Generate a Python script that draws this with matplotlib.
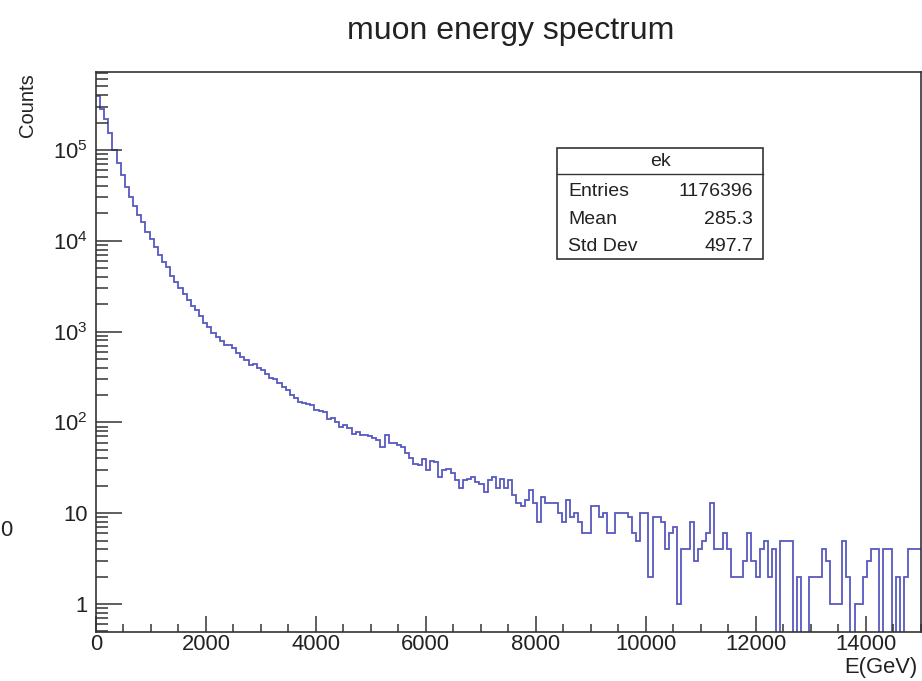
import matplotlib
matplotlib.use("Agg")
import matplotlib.pyplot as plt
from matplotlib.ticker import MultipleLocator, LogLocator, FixedLocator, FuncFormatter
from matplotlib.patches import Rectangle
from matplotlib.lines import Line2D
import numpy as np

# histogram "ek": 200 bins of 75 GeV between 0 and 15000 GeV
e_min = 0
e_max = 15000
n_bins = 200

counts = [
    390000, 280000, 220000, 155000, 100000, 71000, 53000, 39000, 30000, 24000,
    19000, 16000, 12500, 10500, 8600, 7000, 5900, 5100, 4100, 3500,
    3000, 2600, 2250, 1900, 1720, 1480, 1250, 1120, 960, 880,
    780, 715, 720, 655, 580, 530, 490, 430, 435, 400,
    375, 340, 310, 300, 270, 245, 230, 200, 185, 168,
    162, 160, 156, 137, 135, 131, 110, 111, 100, 90,
    94, 86, 75, 79, 73, 73, 70, 68, 64, 54,
    72, 60, 59, 56, 54, 46, 40, 35, 34, 39,
    30, 38, 37, 25, 30, 31, 28, 23, 19, 23,
    24, 25, 22, 21, 17, 23, 25, 19, 24, 19,
    23, 16, 13, 12, 14, 18, 13, 8, 15, 13,
    13, 13, 10, 8, 14, 9, 10, 8, 6, 6,
    12, 12, 9, 10, 6, 6, 10, 10, 10, 9,
    6, 5, 10, 10, 2, 9, 9, 8, 4, 6,
    7, 1, 4, 4, 8, 3, 4, 5, 6, 13,
    4, 4, 6, 4, 2, 2, 2, 3, 6, 3,
    2, 4, 5, 2, 4, 0, 5, 5, 5, 0,
    2, 0, 0, 2, 2, 2, 4, 3, 1, 1,
    1, 5, 2, 0, 1, 1, 2, 3, 4, 4,
    0, 4, 4, 0, 2, 0, 2, 4, 4, 4,
]

stats_labels = ["Entries", "Mean", "Std Dev"]
stats_values = ["1176396", "285.3", "497.7"]

W, H = 922, 681
plt.rcParams["font.family"] = ["Liberation Sans", "DejaVu Sans"]
plt.rcParams["mathtext.fontset"] = "custom"
plt.rcParams["mathtext.rm"] = "Liberation Sans"
plt.rcParams["mathtext.it"] = "Liberation Sans:italic"
plt.rcParams["mathtext.bf"] = "Liberation Sans:bold"


def fx(px):
    return px / W


def fy(py):
    return 1 - py / H


fig = plt.figure(figsize=(W / 100, H / 100), dpi=100)
ax = fig.add_axes([fx(96), fy(631.7), fx(920.5) - fx(96), fy(72) - fy(631.7)])

edges = np.linspace(e_min, e_max, n_bins + 1)
vals = np.array(counts, dtype=float)
vals = np.where(vals > 0, vals, 1e-2)  # empty bins drop below the frame
ax.stairs(vals, edges, baseline=None, color="#5858c0", lw=1.3)

ax.set_yscale("log")
ax.set_xlim(e_min, e_max)
ax.set_ylim(0.495, 7.22e5)

ax.xaxis.set_major_locator(MultipleLocator(2000))
ax.xaxis.set_minor_locator(MultipleLocator(500))
ax.yaxis.set_major_locator(FixedLocator([1, 10, 100, 1e3, 1e4, 1e5]))
ax.yaxis.set_minor_locator(LogLocator(base=10, subs=np.arange(2, 10)))


def ylab(v, pos):
    if v == 1:
        return "1"
    if v == 10:
        return "10"
    return r"$\mathregular{10^{%d}}$" % int(round(np.log10(v)))


ax.yaxis.set_major_formatter(FuncFormatter(ylab))
ax.yaxis.set_minor_formatter(FuncFormatter(lambda v, p: ""))

ax.tick_params(axis="both", which="both", direction="in", colors="#333333",
               labelcolor="#222222", width=1.1, top=False, right=False)
ax.tick_params(axis="y", which="major", length=19, labelsize=15.8, pad=6)
ax.tick_params(axis="y", which="minor", length=8.5)
ax.tick_params(axis="x", which="major", length=11.5, labelsize=15.8, pad=2)
ax.tick_params(axis="x", which="minor", length=5.8)
for s in ax.spines.values():
    s.set_linewidth(1.2)
    s.set_color("#333333")

# title and axis titles
fig.text(fx(511), fy(31), "muon energy spectrum", ha="center", va="center",
         fontsize=23, color="#222222")
fig.text(fx(27), fy(73), "Counts", rotation=90, ha="center", va="top",
         fontsize=14.5, color="#222222")
fig.text(fx(917), fy(668), "E(GeV)", ha="right", va="center",
         fontsize=15.8, color="#222222")
fig.text(fx(0), fy(530), "0", ha="left", va="center", fontsize=15.8, color="#222222")

# stats box
bx0, by0, bx1, by1 = 557, 148, 763, 259
fig.add_artist(Rectangle((fx(bx0), fy(by1)), fx(bx1) - fx(bx0), fy(by0) - fy(by1),
                         facecolor="white", edgecolor="#333333", lw=1.2,
                         transform=fig.transFigure))
fig.add_artist(Line2D([fx(bx0), fx(bx1)], [fy(174), fy(174)], color="#333333",
                      lw=1.0, transform=fig.transFigure))
fig.text(fx((bx0 + bx1) / 2), fy(162), "ek", ha="center", va="center",
         fontsize=14, color="#222222")
for i, (lab, val) in enumerate(zip(stats_labels, stats_values)):
    yy = 192 + i * 27.5
    fig.text(fx(568), fy(yy), lab, ha="left", va="center", fontsize=14, color="#222222")
    fig.text(fx(753), fy(yy), val, ha="right", va="center", fontsize=14, color="#222222")

fig.savefig("out.png", dpi=100)
